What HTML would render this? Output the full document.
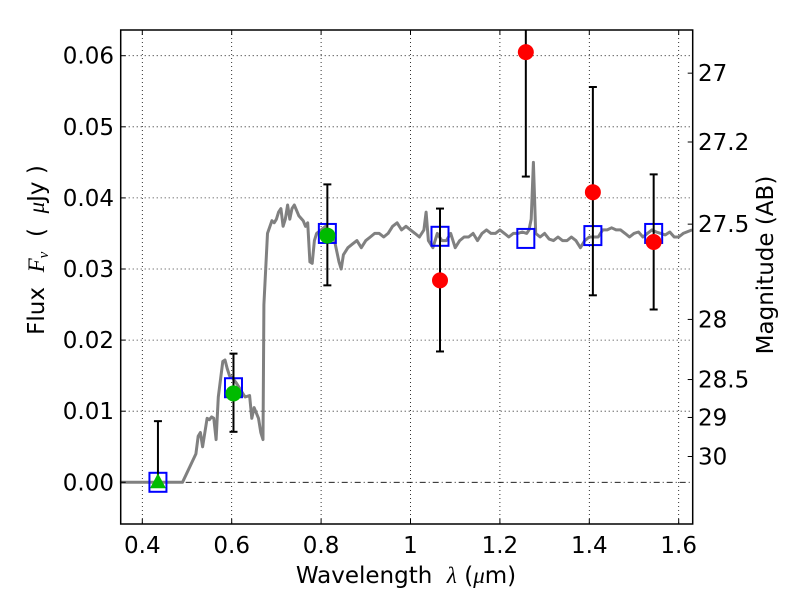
<!DOCTYPE html>
<html><head><meta charset="utf-8"><style>
body{margin:0;background:#fff}
svg text{font-family:"DejaVu Sans","Liberation Sans",sans-serif;fill:#000}
</style></head><body>
<svg width="800" height="600" viewBox="0 0 800 600">
<g id="grid"></g>
<g id="spec"></g>
<g id="marks"></g>
<g id="axes"></g>
<text x="406" y="583" font-size="23" text-anchor="middle" xml:space="preserve">Wavelength  <tspan font-family="Liberation Serif" font-style="italic">λ</tspan> (<tspan font-family="Liberation Serif" font-style="italic">μ</tspan>m)</text>
<text transform="translate(44,250) rotate(-90)" font-size="23" text-anchor="middle" xml:space="preserve">Flux  <tspan font-family="Liberation Serif" font-style="italic">F<tspan font-size="15" dy="4">ν</tspan></tspan><tspan dy="-4">  (  </tspan><tspan font-family="Liberation Serif" font-style="italic">μ</tspan>Jy )</text>
<text transform="translate(773,265) rotate(-90)" font-size="23" text-anchor="middle">Magnitude (AB)</text>
</svg>
<script>
const xTicks=[0.4,0.6,0.8,1.0,1.2,1.4,1.6];
const xTickLabels=["0.4","0.6","0.8","1","1.2","1.4","1.6"];
const yTicks=[0,0.01,0.02,0.03,0.04,0.05,0.06];
const yTickLabels=["0.00","0.01","0.02","0.03","0.04","0.05","0.06"];
const magTicks=[27,27.2,27.5,28,28.5,29,30];
const magTickLabels=["27","27.2","27.5","28","28.5","29","30"];
const specWave=[0.35,0.49,0.52,0.525,0.53,0.535,0.545,0.55,0.555,0.56,0.565,0.57,0.58,0.585,0.59,0.595,0.6,0.61,0.62,0.63,0.64,0.645,0.65,0.66,0.665,0.67,0.672,0.68,0.69,0.695,0.7,0.705,0.71,0.715,0.72,0.725,0.73,0.735,0.74,0.75,0.76,0.765,0.77,0.775,0.78,0.785,0.79,0.8,0.81,0.82,0.83,0.84,0.845,0.85,0.86,0.87,0.88,0.89,0.9,0.91,0.92,0.93,0.94,0.95,0.96,0.97,0.98,0.99,1.0,1.01,1.02,1.03,1.035,1.04,1.05,1.06,1.07,1.08,1.09,1.1,1.11,1.12,1.13,1.14,1.15,1.16,1.17,1.18,1.19,1.2,1.21,1.22,1.23,1.24,1.25,1.26,1.265,1.27,1.275,1.28,1.29,1.3,1.31,1.32,1.33,1.34,1.35,1.36,1.37,1.38,1.39,1.4,1.41,1.42,1.43,1.44,1.45,1.46,1.47,1.48,1.49,1.5,1.51,1.52,1.53,1.54,1.55,1.56,1.57,1.58,1.59,1.6,1.61,1.63];
const specFlux=[0,0,0.004,0.0065,0.007,0.005,0.009,0.0088,0.0092,0.009,0.006,0.012,0.017,0.0172,0.016,0.015,0.0148,0.014,0.013,0.012,0.0122,0.009,0.0105,0.009,0.007,0.006,0.025,0.035,0.0368,0.0365,0.037,0.038,0.0385,0.036,0.037,0.039,0.037,0.0385,0.039,0.0375,0.0368,0.036,0.0365,0.031,0.0308,0.034,0.035,0.0355,0.036,0.0348,0.034,0.031,0.030,0.032,0.033,0.0335,0.034,0.033,0.034,0.0345,0.035,0.035,0.0345,0.035,0.036,0.0365,0.0355,0.036,0.0355,0.035,0.0345,0.0355,0.038,0.034,0.033,0.035,0.034,0.034,0.035,0.033,0.034,0.0345,0.0345,0.035,0.034,0.035,0.0355,0.035,0.035,0.0355,0.035,0.0345,0.035,0.035,0.0352,0.035,0.0355,0.037,0.045,0.035,0.0345,0.035,0.0342,0.034,0.0345,0.034,0.034,0.0345,0.034,0.033,0.034,0.0345,0.0345,0.0345,0.0355,0.0355,0.0358,0.0355,0.0355,0.035,0.0345,0.035,0.0352,0.0345,0.035,0.0355,0.0352,0.035,0.0348,0.0352,0.0345,0.0345,0.035,0.0355];
const modelWave=[0.435,0.604,0.814,1.066,1.258,1.408,1.544];
const modelFlux=[0.0,0.0133,0.035,0.0346,0.0343,0.0347,0.035];
const obsWave=[0.435,0.604,0.814,1.066,1.258,1.408,1.544];
const obsFlux=[0.0,0.0125,0.0347,0.0284,0.0605,0.0408,0.0338];
const obsLo=[0.0,0.0071,0.0277,0.0184,0.043,0.0263,0.0243];
const obsHi=[0.0086,0.0181,0.0419,0.0385,0.075,0.0556,0.0433];
const obsKind=["tri","green","green","red","red","red","red"];

const L=120.7,R=692.7,T=30,B=524;
const X=v=>142.3+(v-0.4)*447;
const Y=v=>482.3-v*7110;
const NS="http://www.w3.org/2000/svg";
function mk(tag,attrs,parent){const e=document.createElementNS(NS,tag);for(const k in attrs)e.setAttribute(k,attrs[k]);parent.appendChild(e);return e;}
const grid=document.getElementById('grid'),spec=document.getElementById('spec'),marks=document.getElementById('marks'),axes=document.getElementById('axes');
xTicks.forEach((t,i)=>{
 const g=mk('line',{x1:X(t),x2:X(t),y1:T,y2:B,stroke:'#000','stroke-width':0.8,'stroke-dasharray':'1,3'},grid);
 
 
 mk('line',{x1:X(t),x2:X(t),y1:B,y2:B-5,stroke:'#000'},axes);
 mk('line',{x1:X(t),x2:X(t),y1:T,y2:T+5,stroke:'#000'},axes);
 const tx=mk('text',{x:X(t),y:B+29,'font-size':23,'text-anchor':'middle'},axes);tx.textContent=xTickLabels[i];
 
 
});
yTicks.forEach((t,i)=>{
 const g=mk('line',{x1:L,x2:R,y1:Y(t),y2:Y(t),stroke:'#000','stroke-width':0.8,'stroke-dasharray':t===0?'6,3,1,3':'1,3'},grid);
 
 
 mk('line',{x1:L,x2:L+5,y1:Y(t),y2:Y(t),stroke:'#000'},axes);
 const tx=mk('text',{x:114,y:Y(t)+8,'font-size':23,'text-anchor':'end'},axes);tx.textContent=yTickLabels[i];
 
 
});
magTicks.forEach((m,i)=>{
 const y=Y(Math.pow(10,(23.9-m)/2.5));
 mk('line',{x1:R,x2:R-5,y1:y,y2:y,stroke:'#000'},axes);
 const tx=mk('text',{x:698,y:y+8,'font-size':23},axes);tx.textContent=magTickLabels[i];
 
 
});
let d='';specWave.forEach((w,i)=>{d+=(i?'L':'M')+X(w).toFixed(1)+','+Y(specFlux[i]).toFixed(1);});
const sp=mk('path',{d:d,fill:'none',stroke:'#808080','stroke-width':3,'stroke-linejoin':'round'},spec);


const cp=mk('clipPath',{id:'clip'},axes);mk('rect',{x:L,y:T,width:R-L,height:B-T},cp);
marks.setAttribute('clip-path','url(#clip)');
modelWave.forEach((w,i)=>{
 const r=mk('rect',{x:X(w)-8.5,y:Y(modelFlux[i])-9.5,width:17,height:19,fill:'none',stroke:'#0000ff','stroke-width':2},marks);
 
 
});
obsWave.forEach((w,i)=>{
 const x=X(w);
 const ys=[Y(obsLo[i]),Y(obsHi[i])];
 mk('line',{x1:x,x2:x,y1:ys[0],y2:ys[1],stroke:'#000','stroke-width':2},marks);
 ys.forEach(y=>mk('line',{x1:x-4,x2:x+4,y1:y,y2:y,stroke:'#000','stroke-width':2},marks));
 const y=Y(obsFlux[i]);let e;
 if(obsKind[i]==='tri'){e=mk('polygon',{points:`${x},${y-9} ${x-8},${y+6} ${x+8},${y+6}`,fill:'#00bb00'},marks);}
 else e=mk('circle',{cx:x,cy:y,r:8,fill:obsKind[i]==='green'?'#00bb00':'#ff0000'},marks);
 
 
});
const fr=mk('rect',{x:L,y:T,width:R-L,height:B-T,fill:'none',stroke:'#000','stroke-width':1.5},axes);


</script>
</body></html>
